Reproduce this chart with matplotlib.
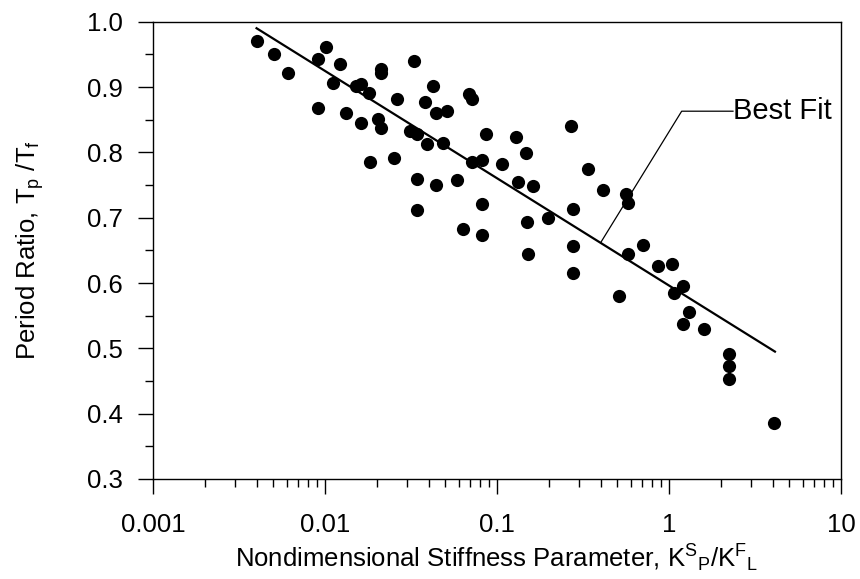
import matplotlib
matplotlib.use("Agg")
import matplotlib.pyplot as plt
from matplotlib.ticker import LogLocator, FuncFormatter, MultipleLocator, NullFormatter

plt.rcParams['font.family'] = ['Liberation Sans', 'DejaVu Sans']
plt.rcParams['mathtext.fontset'] = 'custom'
plt.rcParams['mathtext.rm'] = 'Liberation Sans'
plt.rcParams['mathtext.it'] = 'Liberation Sans:italic'

# Data
stiffness = [0.00404, 0.00507, 0.00607, 0.01018, 0.00914, 0.01223, 0.01118, 0.00914,
             0.01319, 0.01613, 0.02117, 0.02117, 0.01508, 0.0162, 0.0181, 0.02025,
             0.02117, 0.02612, 0.03306, 0.04229, 0.03814, 0.04402, 0.05122, 0.06902,
             0.07127, 0.08667, 0.0312, 0.03414, 0.03918, 0.04853, 0.07127, 0.08147,
             0.0182, 0.02519, 0.03414, 0.04418, 0.05831, 0.08147, 0.03414, 0.0637,
             0.08181, 0.129, 0.1475, 0.2693, 0.3396, 0.4117, 0.5601, 0.5753,
             0.1065, 0.133, 0.1626, 0.2755, 0.1971, 0.1488, 0.1521, 0.2777,
             0.2755, 0.514, 0.5753, 0.7089, 0.8597, 1.045, 1.202, 1.069,
             1.307, 1.202, 1.598, 2.224, 2.224, 2.224, 4.095]
period_ratio = [0.971, 0.951, 0.922, 0.962, 0.943, 0.935, 0.906, 0.868,
                0.861, 0.845, 0.928, 0.922, 0.902, 0.905, 0.891, 0.851,
                0.838, 0.881, 0.940, 0.901, 0.877, 0.860, 0.864, 0.889,
                0.882, 0.828, 0.832, 0.828, 0.813, 0.815, 0.786, 0.789,
                0.786, 0.792, 0.759, 0.750, 0.758, 0.721, 0.711, 0.682,
                0.673, 0.823, 0.799, 0.840, 0.774, 0.742, 0.736, 0.722,
                0.782, 0.754, 0.749, 0.714, 0.699, 0.693, 0.645, 0.657,
                0.615, 0.580, 0.645, 0.658, 0.626, 0.629, 0.596, 0.585,
                0.556, 0.538, 0.530, 0.491, 0.473, 0.453, 0.385]

fit_x = [0.004, 4.13]
fit_y = [0.990, 0.495]

leader_x = [0.401, 1.185, 2.355]
leader_y = [0.662, 0.863, 0.863]
label_text = "Best Fit"

x_ticks = [0.001, 0.01, 0.1, 1, 10]
y_ticks = [0.3, 0.4, 0.5, 0.6, 0.7, 0.8, 0.9, 1.0]

fig = plt.figure(figsize=(8.6, 5.79), dpi=100)
ax = fig.add_axes([153/860, 1 - 479/579, (841-153)/860, (479-21.7)/579])

ax.plot(stiffness, period_ratio, 'o', color='black', markersize=9.5, markeredgewidth=0)
ax.plot(fit_x, fit_y, '-', color='black', linewidth=1.6)
ax.plot(leader_x, leader_y, '-', color='black', linewidth=0.9)
ax.text(leader_x[-1] * 1.005, leader_y[-1], label_text, fontsize=21, ha='left', va='center')

ax.set_xscale('log')
ax.set_xlim(0.001, 10)
ax.set_ylim(0.3, 1.0)
ax.set_xticks(x_ticks)
ax.xaxis.set_major_formatter(FuncFormatter(lambda v, p: '%g' % v))
ax.xaxis.set_minor_locator(LogLocator(base=10, subs=range(2, 10)))
ax.xaxis.set_minor_formatter(NullFormatter())
ax.set_yticks(y_ticks)
ax.yaxis.set_major_formatter(FuncFormatter(lambda v, p: '%.1f' % v))
ax.yaxis.set_minor_locator(MultipleLocator(0.05))

ax.tick_params(axis='both', which='both', direction='out', top=False, right=False,
               colors='black', width=1.0)
ax.tick_params(axis='both', which='major', length=10.5, labelsize=18.5)
ax.tick_params(axis='both', which='minor', length=6)
ax.tick_params(axis='x', which='major', pad=14)
ax.tick_params(axis='y', which='major', pad=11)

for s in ax.spines.values():
    s.set_linewidth(1.0)
    s.set_color('black')

ax.set_xlabel('Nondimensional Stiffness Parameter, K$^{\\mathregular{S}}{}_{\\mathregular{P}}$/K$^{\\mathregular{F}}{}_{\\mathregular{L}}$',
              fontsize=18.5)
ax.set_ylabel('Period Ratio, T$_{\\mathregular{p}}$ /T$_{\\mathregular{f}}$', fontsize=18.5)
ax.xaxis.set_label_coords(0.5, -0.14)
ax.yaxis.set_label_coords(-0.155, 0.5)

fig.savefig('out.png', dpi=100)
